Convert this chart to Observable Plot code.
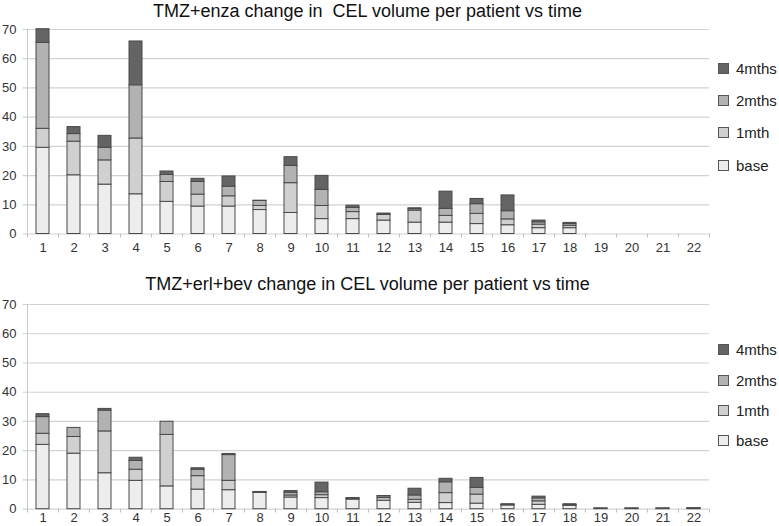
<!DOCTYPE html>
<html><head><meta charset="utf-8">
<script src="https://cdn.jsdelivr.net/npm/d3@7"></script>
<script src="https://cdn.jsdelivr.net/npm/@observablehq/plot@0.6"></script>
<style>
body{margin:0;background:#fff;font-family:"Liberation Sans",Arial,sans-serif;}
#wrap{position:relative;width:779px;height:526px;overflow:hidden;}
.chart{position:absolute;left:0;width:779px;}
.title{position:absolute;left:26px;width:683px;text-align:center;font-size:18px;line-height:18px;color:#111;white-space:pre;}
.item{position:absolute;left:718px;height:18px;display:flex;align-items:center;white-space:nowrap;font-size:15px;color:#222;}
.sw{width:11px;height:11px;border:1px solid #555;box-sizing:border-box;margin-right:7px;}
</style>
</head><body><div id="wrap"></div>
<script>
const patients = d3.range(1, 23).map(String);
const seriesNames = ["base", "1mth", "2mths", "4mths"];
const seriesColors = ["#ededed", "#d0d0d0", "#b2b2b2", "#646464"];
const yTicks = [0, 10, 20, 30, 40, 50, 60, 70];

const title1 = "TMZ+enza change in  CEL volume per patient vs time";
const enzaBase  = [29.5,20.1,16.9,13.6,11.0,9.4,9.4,8.2,7.2,5.1,5.1,4.6,3.9,3.9,3.4,3.0,2.0,2.0,0,0,0,0];
const enza1mth  = [6.5,11.5,8.3,19.1,6.8,4.1,3.5,1.4,10.2,4.5,2.4,1.9,4.1,2.3,3.5,2.0,1.2,0.8,0,0,0,0];
const enza2mths = [29.4,2.6,4.3,18.2,2.4,4.3,3.3,1.7,5.9,5.5,1.4,0.1,0.5,2.4,3.3,2.8,0.8,0.6,0,0,0,0];
const enza4mths = [4.7,2.4,4.1,15.0,1.2,1.1,3.5,0.1,3.0,4.8,0.8,0.4,0.3,5.9,1.8,5.4,0.6,0.4,0,0,0,0];

const title2 = "TMZ+erl+bev change in CEL volume per patient vs time";
const bevBase  = [22.0,19.0,12.3,9.7,7.8,6.7,6.5,5.6,4.0,3.8,3.3,2.9,2.2,2.1,1.9,1.3,1.5,1.2,0.15,0.15,0.15,0.15];
const bev1mth  = [3.8,5.7,14.3,3.8,17.6,4.6,3.2,0.1,0.7,1.0,0.2,0.9,1.0,3.4,3.1,0.1,1.2,0.1,0.05,0.05,0.05,0.05];
const bev2mths = [5.7,3.1,7.1,3.0,4.5,2.2,8.8,0.1,0.9,1.0,0.1,0.6,1.5,3.7,2.3,0.1,1.0,0.1,0.05,0.05,0.05,0.05];
const bev4mths = [1.0,0,0.6,1.1,0,0.5,0.4,0.1,0.6,3.3,0.2,0.1,2.3,1.2,3.4,0.2,0.6,0.3,0,0,0,0.05];

const W = 779, ML = 26, MR = 70;
const step = (W - ML - MR) / patients.length;

function rows(arrs) {
  const out = [];
  patients.forEach((p, i) => arrs.forEach((a, k) => out.push({patient: p, series: seriesNames[k], value: a[i]})));
  return out;
}

function chart(data, {height, marginTop, marginBottom, tickPadding}) {
  return Plot.plot({
    width: W, height, marginLeft: ML, marginRight: MR, marginTop, marginBottom,
    style: {fontFamily: "Liberation Sans, Arial, sans-serif", fontSize: "13px", color: "#333", background: "white", overflow: "visible"},
    x: {type: "band", domain: patients, paddingInner: 0.59, paddingOuter: 0.295, tickSize: 0, tickPadding, label: null},
    y: {domain: [0, 70], ticks: yTicks, tickSize: 0, tickPadding: 10, label: null},
    color: {domain: seriesNames, range: seriesColors},
    marks: [
      Plot.ruleY(yTicks, {stroke: "#d2d2d2", strokeWidth: 1.2, insetLeft: -3.5}),
      Plot.ruleX([patients[0]], {x: d => d, dx: -step / 2, y1: 0, y2: 70, stroke: "#c8c8c8"}),
      Plot.ruleX(patients, {x: d => d, dx: -step / 2, y1: 0, y2: -1.3, stroke: "#bdbdbd"}),
      Plot.ruleX([patients[patients.length - 1]], {x: d => d, dx: step / 2, y1: 0, y2: -1.3, stroke: "#bdbdbd"}),
      Plot.barY(data, {x: "patient", y: "value", fill: "series", stroke: "#4a4a4a", strokeWidth: 1})
    ]
  });
}

const wrap = document.getElementById("wrap");
function addChart(top, title, titleTop, arrs, opts, legendCenters) {
  const t = document.createElement("div");
  t.className = "title"; t.style.top = titleTop + "px"; t.textContent = title;
  const c = document.createElement("div");
  c.className = "chart"; c.style.top = top + "px";
  c.appendChild(chart(rows(arrs), opts));
  wrap.appendChild(c);
  wrap.appendChild(t);
  const order = [3, 2, 1, 0];
  order.forEach((k, j) => {
    const it = document.createElement("div");
    it.className = "item"; it.style.top = (legendCenters[j] - 9) + "px";
    const sw = document.createElement("span");
    sw.className = "sw"; sw.style.background = seriesColors[k];
    it.appendChild(sw);
    it.appendChild(document.createTextNode(seriesNames[k]));
    wrap.appendChild(it);
  });
}

addChart(0, title1, 1.5, [enzaBase, enza1mth, enza2mths, enza4mths],
  {height: 263, marginTop: 29, marginBottom: 29.5, tickPadding: 9}, [68.3, 100.3, 132.7, 165]);
addChart(263, title2, 275, [bevBase, bev1mth, bev2mths, bev4mths],
  {height: 263, marginTop: 41, marginBottom: 17.3, tickPadding: 3.5}, [349.3, 380.3, 410, 440]);
</script>
</body></html>
